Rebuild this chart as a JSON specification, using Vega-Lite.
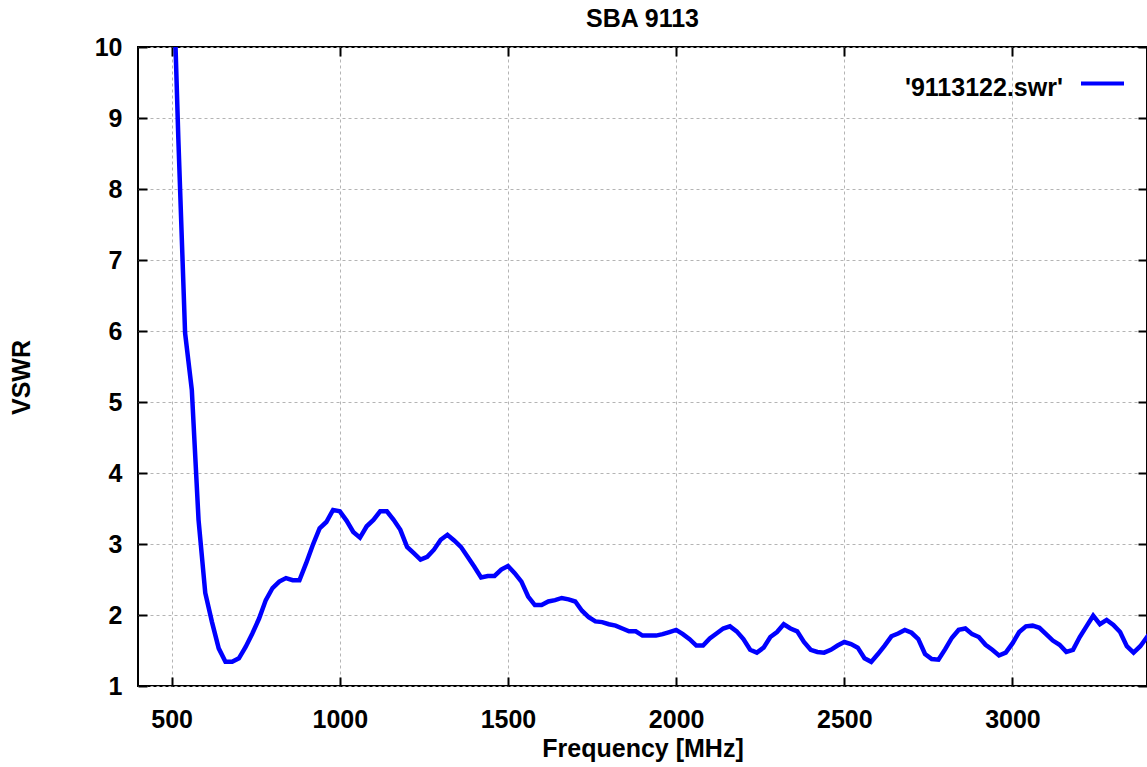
{
  "$schema": "https://vega.github.io/schema/vega-lite/v6.json",
  "width": 1009,
  "height": 639,
  "autosize": {"type": "none"},
  "padding": {"left": 138, "top": 47, "right": 0, "bottom": 81},
  "background": "white",
  "title": {"text": "SBA 9113", "fontSize": 25, "font": "Liberation Sans", "fontWeight": "bold", "offset": 3, "frame": "group", "anchor": "middle", "color": "black"},
  "config": {
    "view": {"stroke": "black", "strokeWidth": 2},
    "axis": {"labelFont": "Liberation Sans", "labelFontWeight": "bold", "labelFontSize": 25, "labelColor": "black", "titleFont": "Liberation Sans", "titleFontWeight": "bold", "titleFontSize": 25, "titleColor": "black", "tickColor": "black", "tickWidth": 2, "domain": false}
  },
  "data": {"values": [
    {"f": 500, "v": 11.8}, {"f": 520, "v": 8.7}, {"f": 540, "v": 5.97}, {"f": 560, "v": 5.17}, {"f": 580, "v": 3.34},
    {"f": 600, "v": 2.31}, {"f": 620, "v": 1.9}, {"f": 640, "v": 1.53}, {"f": 660, "v": 1.34}, {"f": 680, "v": 1.34},
    {"f": 700, "v": 1.39}, {"f": 720, "v": 1.55}, {"f": 740, "v": 1.74}, {"f": 760, "v": 1.95}, {"f": 780, "v": 2.21},
    {"f": 800, "v": 2.38}, {"f": 820, "v": 2.47}, {"f": 840, "v": 2.52}, {"f": 860, "v": 2.49}, {"f": 880, "v": 2.49},
    {"f": 900, "v": 2.73}, {"f": 920, "v": 2.99}, {"f": 940, "v": 3.22}, {"f": 960, "v": 3.31}, {"f": 980, "v": 3.48},
    {"f": 1000, "v": 3.46}, {"f": 1020, "v": 3.33}, {"f": 1040, "v": 3.17}, {"f": 1060, "v": 3.09}, {"f": 1080, "v": 3.25},
    {"f": 1100, "v": 3.34}, {"f": 1120, "v": 3.46}, {"f": 1140, "v": 3.46}, {"f": 1160, "v": 3.34}, {"f": 1180, "v": 3.2},
    {"f": 1200, "v": 2.96}, {"f": 1220, "v": 2.87}, {"f": 1240, "v": 2.78}, {"f": 1260, "v": 2.82}, {"f": 1280, "v": 2.92},
    {"f": 1300, "v": 3.06}, {"f": 1320, "v": 3.13}, {"f": 1340, "v": 3.05}, {"f": 1360, "v": 2.96}, {"f": 1380, "v": 2.82},
    {"f": 1400, "v": 2.68}, {"f": 1420, "v": 2.53}, {"f": 1440, "v": 2.55}, {"f": 1460, "v": 2.55}, {"f": 1480, "v": 2.64},
    {"f": 1500, "v": 2.69}, {"f": 1520, "v": 2.59}, {"f": 1540, "v": 2.47}, {"f": 1560, "v": 2.26}, {"f": 1580, "v": 2.14},
    {"f": 1600, "v": 2.14}, {"f": 1620, "v": 2.19}, {"f": 1640, "v": 2.21}, {"f": 1660, "v": 2.24}, {"f": 1680, "v": 2.22},
    {"f": 1700, "v": 2.19}, {"f": 1720, "v": 2.06}, {"f": 1740, "v": 1.97}, {"f": 1760, "v": 1.91}, {"f": 1780, "v": 1.9},
    {"f": 1800, "v": 1.87}, {"f": 1820, "v": 1.85}, {"f": 1840, "v": 1.81}, {"f": 1860, "v": 1.77}, {"f": 1880, "v": 1.77},
    {"f": 1900, "v": 1.71}, {"f": 1920, "v": 1.71}, {"f": 1940, "v": 1.71}, {"f": 1960, "v": 1.73}, {"f": 1980, "v": 1.76},
    {"f": 2000, "v": 1.79}, {"f": 2020, "v": 1.73}, {"f": 2040, "v": 1.66}, {"f": 2060, "v": 1.57}, {"f": 2080, "v": 1.57},
    {"f": 2100, "v": 1.67}, {"f": 2120, "v": 1.74}, {"f": 2140, "v": 1.81}, {"f": 2160, "v": 1.84}, {"f": 2180, "v": 1.77},
    {"f": 2200, "v": 1.66}, {"f": 2220, "v": 1.51}, {"f": 2240, "v": 1.47}, {"f": 2260, "v": 1.54}, {"f": 2280, "v": 1.69},
    {"f": 2300, "v": 1.76}, {"f": 2320, "v": 1.87}, {"f": 2340, "v": 1.81}, {"f": 2360, "v": 1.77}, {"f": 2380, "v": 1.62},
    {"f": 2400, "v": 1.51}, {"f": 2420, "v": 1.48}, {"f": 2440, "v": 1.47}, {"f": 2460, "v": 1.51}, {"f": 2480, "v": 1.57},
    {"f": 2500, "v": 1.62}, {"f": 2520, "v": 1.59}, {"f": 2540, "v": 1.54}, {"f": 2560, "v": 1.39}, {"f": 2580, "v": 1.34},
    {"f": 2600, "v": 1.45}, {"f": 2620, "v": 1.57}, {"f": 2640, "v": 1.7}, {"f": 2660, "v": 1.74}, {"f": 2680, "v": 1.79},
    {"f": 2700, "v": 1.75}, {"f": 2720, "v": 1.66}, {"f": 2740, "v": 1.45}, {"f": 2760, "v": 1.38}, {"f": 2780, "v": 1.37},
    {"f": 2800, "v": 1.52}, {"f": 2820, "v": 1.68}, {"f": 2840, "v": 1.79}, {"f": 2860, "v": 1.81}, {"f": 2880, "v": 1.73},
    {"f": 2900, "v": 1.69}, {"f": 2920, "v": 1.58}, {"f": 2940, "v": 1.51}, {"f": 2960, "v": 1.43}, {"f": 2980, "v": 1.47},
    {"f": 3000, "v": 1.6}, {"f": 3020, "v": 1.76}, {"f": 3040, "v": 1.84}, {"f": 3060, "v": 1.85}, {"f": 3080, "v": 1.82},
    {"f": 3100, "v": 1.73}, {"f": 3120, "v": 1.64}, {"f": 3140, "v": 1.58}, {"f": 3160, "v": 1.48}, {"f": 3180, "v": 1.51},
    {"f": 3200, "v": 1.69}, {"f": 3220, "v": 1.84}, {"f": 3240, "v": 1.99}, {"f": 3260, "v": 1.87}, {"f": 3280, "v": 1.93},
    {"f": 3300, "v": 1.86}, {"f": 3320, "v": 1.76}, {"f": 3340, "v": 1.56}, {"f": 3360, "v": 1.47}, {"f": 3380, "v": 1.56},
    {"f": 3400, "v": 1.69}, {"f": 3420, "v": 1.82}
  ]},
  "layer": [
    {
      "mark": {"type": "line", "strokeWidth": 4.5, "clip": true},
      "encoding": {
        "x": {"field": "f", "type": "quantitative", "scale": {"domain": [400, 3400], "nice": false, "zero": false},
          "axis": {"values": [500, 1000, 1500, 2000, 2500, 3000], "format": "d", "title": "Frequency [MHz]", "grid": true, "gridColor": "#b4b4b4", "gridDash": [3, 3], "gridWidth": 1, "tickSize": -9, "labelPadding": 30, "titleY": 70, "titleBaseline": "alphabetic"}},
        "y": {"field": "v", "type": "quantitative", "scale": {"domain": [1, 10], "nice": false, "zero": false},
          "axis": {"values": [1, 2, 3, 4, 5, 6, 7, 8, 9, 10], "title": "VSWR", "grid": true, "gridColor": "#b4b4b4", "gridDash": [3, 3], "gridWidth": 1, "tickSize": -9, "labelPadding": 25, "titleX": -117, "titleY": 330, "titleBaseline": "middle"}},
        "color": {"datum": "'9113122.swr'", "scale": {"range": ["#0000ff"]},
          "legend": {"title": "'9113122.swr'", "titleOrient": "left", "titleFont": "Liberation Sans", "titleFontSize": 25, "titleFontWeight": "bold", "titleColor": "black", "titlePadding": 16, "titleBaseline": "top", "symbolType": "stroke", "symbolSize": 1849, "symbolStrokeWidth": 4, "labelExpr": "''", "labelOffset": 0, "orient": "none", "legendX": 767, "legendY": 13, "padding": 0}}
      }
    },
    {
      "mark": {"type": "line", "strokeOpacity": 0, "clip": true},
      "encoding": {
        "x": {"field": "f", "type": "quantitative", "scale": {"domain": [400, 3400], "nice": false, "zero": false},
          "axis": {"orient": "top", "values": [500, 1000, 1500, 2000, 2500, 3000], "title": null, "labels": false, "grid": false, "tickSize": -9}},
        "y": {"field": "v", "type": "quantitative", "scale": {"domain": [1, 10], "nice": false, "zero": false},
          "axis": {"orient": "right", "values": [1, 2, 3, 4, 5, 6, 7, 8, 9, 10], "title": null, "labels": false, "grid": false, "tickSize": -9}}
      }
    }
  ],
  "resolve": {"axis": {"x": "independent", "y": "independent"}}
}
